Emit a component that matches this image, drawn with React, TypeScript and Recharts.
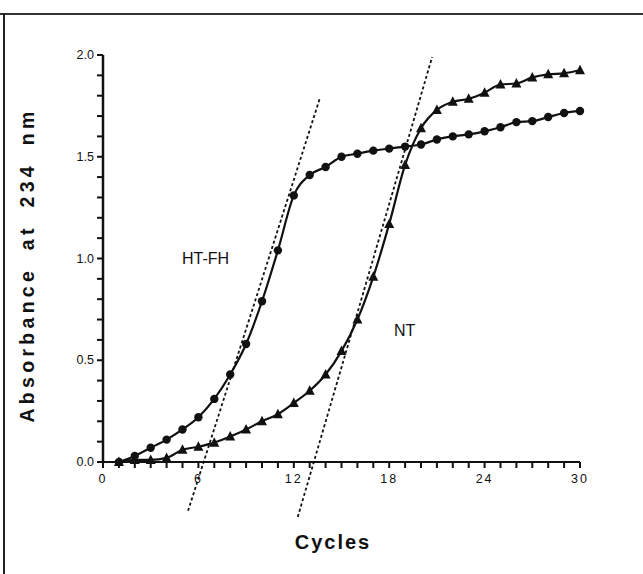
import React from "react"
import {
  LineChart,
  Line,
  XAxis,
  YAxis,
  ReferenceLine
} from "recharts"

// cycle number of each reading
const cycles = [1, 2, 3, 4, 5, 6, 7, 8, 9, 10, 11, 12, 13, 14, 15, 16, 17, 18, 19, 20, 21, 22, 23, 24, 25, 26, 27, 28, 29, 30]

// absorbance at 234 nm, HT-FH (circles)
const htfh = [0.0, 0.03, 0.07, 0.11, 0.16, 0.22, 0.31, 0.43, 0.58, 0.79, 1.04, 1.31, 1.41, 1.45, 1.5, 1.515, 1.53, 1.54, 1.55, 1.56, 1.585, 1.6, 1.61, 1.625, 1.645, 1.67, 1.675, 1.695, 1.715, 1.725]

// absorbance at 234 nm, NT (triangles)
const nt = [0.0, 0.01, 0.01, 0.02, 0.06, 0.075, 0.095, 0.125, 0.16, 0.2, 0.235, 0.29, 0.35, 0.43, 0.545, 0.7, 0.91, 1.17, 1.46, 1.64, 1.73, 1.77, 1.785, 1.815, 1.855, 1.86, 1.89, 1.905, 1.91, 1.925]

// dotted tangents through the steep part of each curve
const tangentHT = [{ cycle: 5.35, value: -0.24 }, { cycle: 13.65, value: 1.79 }]
const tangentNT = [{ cycle: 12.25, value: -0.27 }, { cycle: 20.7, value: 1.99 }]

const xTicks = [0, 1, 2, 3, 4, 5, 6, 7, 8, 9, 10, 11, 12, 13, 14, 15, 16, 17, 18, 19, 20, 21, 22, 23, 24, 25, 26, 27, 28, 29, 30]
const xLabels = [0, 6, 12, 18, 24, 30]
const yTicks = [0, 0.1, 0.2, 0.3, 0.4, 0.5, 0.6, 0.7, 0.8, 0.9, 1.0, 1.1, 1.2, 1.3, 1.4, 1.5, 1.6, 1.7, 1.8, 1.9, 2.0]
const yLabels = [0, 0.5, 1.0, 1.5, 2.0]

const rows = cycles.map((c, i) => ({ cycle: c, htfh: htfh[i], nt: nt[i] }))

const ink = "#111"
const font = "'Liberation Sans', Arial, sans-serif"

// tick mark + label drawn together (tickSize 0 so x/y sit on the axis line)
const XTick = (props: any) => {
  const x = Number(props.x)
  const y = Number(props.y)
  const v = props.payload.value
  const major = xLabels.includes(v)
  return (
    <g>
      <rect x={x - 1} y={y} width={2} height={6} fill={ink} />
      {major && (
        <text x={x} y={y + 21} textAnchor="middle" fontSize={12.5} fill={ink}
          fontFamily={font} letterSpacing={2}>
          {v}
        </text>
      )}
    </g>
  )
}

const YTick = (props: any) => {
  const x = Number(props.x)
  const y = Number(props.y)
  const v = props.payload.value
  const major = yLabels.some(l => Math.abs(l - v) < 1e-6)
  return (
    <g>
      <rect x={x - 6} y={y - 1} width={6} height={2} fill={ink} />
      {major && (
        <text x={x - 9} y={y + 4} textAnchor="end" fontSize={12.5} fill={ink}
          fontFamily={font}>
          {v.toFixed(1)}
        </text>
      )}
    </g>
  )
}

const Triangle = (props: any) => {
  const { cx, cy, index } = props
  if (cx == null || cy == null) return <g key={index} />
  return (
    <polygon key={index}
      points={`${cx},${cy - 5.5} ${cx - 5},${cy + 4} ${cx + 5},${cy + 4}`}
      fill={ink} />
  )
}

export default function App() {
  return (
    <div style={{ position: "absolute", left: 0, top: 0, width: 643, height: 574, background: "#fff" }}>
      <div style={{ position: "absolute", left: 0, top: 13, width: 643, height: 2, background: "#333" }} />
      <div style={{ position: "absolute", left: 3, top: 13, width: 2, height: 561, background: "#222" }} />

      <LineChart width={643} height={574} data={rows}
        margin={{ top: 55, right: 63, bottom: 82, left: 43 }}>
        <XAxis dataKey="cycle" type="number" domain={[0, 30]} ticks={xTicks} interval={0}
          stroke={ink} tick={<XTick />} tickLine={false} tickSize={0} tickMargin={0} height={30}
          axisLine={{ stroke: ink, strokeWidth: 2 }} />
        <YAxis type="number" domain={[0, 2]} ticks={yTicks} interval={0}
          stroke={ink} tick={<YTick />} tickLine={false} tickSize={0} tickMargin={0} width={60}
          axisLine={{ stroke: ink, strokeWidth: 2.5 }} />

        <ReferenceLine segment={tangentHT.map(p => ({ x: p.cycle, y: p.value }))}
          ifOverflow="visible" stroke={ink} strokeWidth={1.8} strokeDasharray="3 2.5" />
        <ReferenceLine segment={tangentNT.map(p => ({ x: p.cycle, y: p.value }))}
          ifOverflow="visible" stroke={ink} strokeWidth={1.8} strokeDasharray="3 2.5" />

        <Line dataKey="htfh" type="monotone" stroke={ink} strokeWidth={2.2}
          dot={{ r: 4.2, fill: ink, stroke: ink, strokeWidth: 0 }} isAnimationActive={false} />
        <Line dataKey="nt" type="monotone" stroke={ink} strokeWidth={2.2}
          dot={<Triangle />} isAnimationActive={false} />
      </LineChart>

      <div style={{ position: "absolute", left: 182, top: 250, fontFamily: font, fontSize: 16, color: ink }}>
        HT-FH
      </div>
      <div style={{ position: "absolute", left: 394, top: 322, fontFamily: font, fontSize: 16, color: ink }}>
        NT
      </div>
      <div style={{ position: "absolute", left: 0, top: 531, width: 666, textAlign: "center",
        fontFamily: font, fontSize: 20, fontWeight: "bold", letterSpacing: 2, color: ink }}>
        Cycles
      </div>
      <div style={{ position: "absolute", left: 27, top: 265, transform: "translate(-50%, -50%) rotate(-90deg)",
        whiteSpace: "nowrap", fontFamily: font, fontSize: 19.5, fontWeight: "bold", letterSpacing: 4.3,
        wordSpacing: 7, color: ink }}>
        Absorbance at 234 nm
      </div>
    </div>
  )
}
